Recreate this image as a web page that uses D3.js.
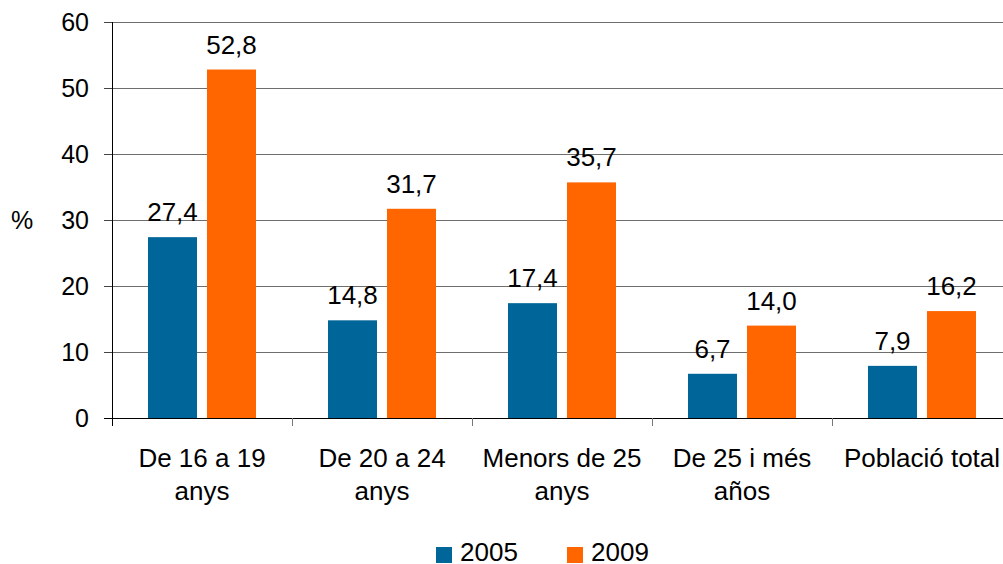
<!DOCTYPE html>
<html>
<head>
<meta charset="utf-8">
<script src="https://cdn.jsdelivr.net/npm/d3@7"></script>
<style>
  html, body { margin: 0; padding: 0; background: #fff; }
  svg { display: block; font-family: "Liberation Sans", Arial, sans-serif; }
</style>
</head>
<body>
<svg id="chart" width="1003" height="564"></svg>
<script>
const categories = [["De 16 a 19", "anys"], ["De 20 a 24", "anys"], ["Menors de 25", "anys"], ["De 25 i més", "años"], ["Població total"]];
const seriesNames = ["2005", "2009"];
const values2005 = [27.4, 14.8, 17.4, 6.7, 7.9];
const values2009 = [52.8, 31.7, 35.7, 14.0, 16.2];
const yTicks = [0, 10, 20, 30, 40, 50, 60];
const colors = ["#006699", "#FF6600"];

const svg = d3.select("#chart");
const catKeys = categories.map(c => c.join(" "));
const x = d3.scaleBand().domain(catKeys).range([112, 1012]).padding(0);
const xInner = d3.scaleBand().domain(seriesNames).range([36, 144]).paddingInner(10 / 59).paddingOuter(0);
const y = d3.scaleLinear().domain([0, 60]).range([418, 22]);

// gridlines
svg.append("g").selectAll("line").data(yTicks.filter(t => t > 0)).join("line")
  .attr("x1", 112).attr("x2", 1003)
  .attr("y1", d => y(d) + 0.5).attr("y2", d => y(d) + 0.5)
  .attr("stroke", "#6e6e6e").attr("stroke-width", 1);

// y tick marks and labels
const yg = svg.append("g");
yg.selectAll("line").data(yTicks).join("line")
  .attr("x1", 104).attr("x2", 112)
  .attr("y1", d => y(d) + 0.5).attr("y2", d => y(d) + 0.5)
  .attr("stroke", "#444");
yg.selectAll("text").data(yTicks).join("text")
  .attr("x", 89).attr("y", d => y(d)).attr("dy", "0.36em")
  .attr("text-anchor", "end").attr("font-size", 25).attr("fill", "#000")
  .text(d => d);

svg.append("text").attr("x", 22).attr("y", y(30)).attr("dy", "0.36em")
  .attr("text-anchor", "middle").attr("font-size", 25).text("%");

// bars
const data = seriesNames.map((s, i) => ({ name: s, color: colors[i], vals: i === 0 ? values2005 : values2009 }));
const barG = svg.append("g");
data.forEach(s => {
  barG.append("g").selectAll("rect").data(s.vals).join("rect")
    .attr("x", (d, i) => x(catKeys[i]) + xInner(s.name))
    .attr("width", xInner.bandwidth())
    .attr("y", d => y(d))
    .attr("height", d => y(0) - y(d))
    .attr("fill", s.color);
  barG.append("g").selectAll("text").data(s.vals).join("text")
    .attr("x", (d, i) => x(catKeys[i]) + xInner(s.name) + xInner.bandwidth() / 2)
    .attr("y", d => y(d) - 16)
    .attr("text-anchor", "middle").attr("font-size", 26).attr("fill", "#000")
    .text(d => d.toFixed(1).replace(".", ","));
});

// axes lines
svg.append("line").attr("x1", 112.5).attr("x2", 112.5).attr("y1", 22).attr("y2", 426).attr("stroke", "#000");
svg.append("line").attr("x1", 104).attr("x2", 1003).attr("y1", 418.5).attr("y2", 418.5).attr("stroke", "#000");

// x tick marks at band boundaries
svg.append("g").selectAll("line").data(catKeys.slice(1)).join("line")
  .attr("x1", d => Math.round(x(d)) + 0.5).attr("x2", d => Math.round(x(d)) + 0.5)
  .attr("y1", 418).attr("y2", 426).attr("stroke", "#777");

// category labels
const cl = svg.append("g").selectAll("text").data(categories).join("text")
  .attr("text-anchor", "middle").attr("font-size", 26).attr("fill", "#000")
  .attr("transform", (d, i) => `translate(${x(catKeys[i]) + x.bandwidth() / 2},467)`);
cl.selectAll("tspan").data(d => d).join("tspan")
  .attr("x", 0).attr("y", (d, i) => i * 33).text(d => d);

// legend
const lg = svg.append("g");
const legendX = [436, 567];
data.forEach((s, i) => {
  lg.append("rect").attr("x", legendX[i]).attr("y", 547).attr("width", 16).attr("height", 16).attr("fill", s.color);
  lg.append("text").attr("x", legendX[i] + 24).attr("y", 561).attr("font-size", 26).text(s.name);
});
</script>
</body>
</html>
